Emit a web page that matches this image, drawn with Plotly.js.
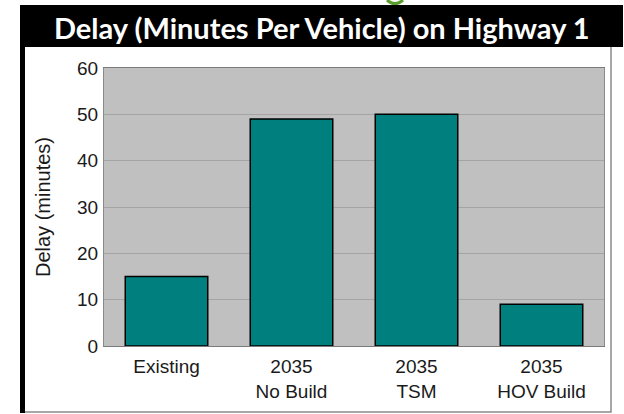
<!DOCTYPE html>
<html>
<head>
<meta charset="utf-8">
<script src="https://cdn.plot.ly/plotly-3.0.1.min.js"></script>
<style>html,body{margin:0;padding:0;background:#fff;}#chart{width:624px;height:414px;}</style>
</head>
<body>
<div id="chart"></div>
<script>
const categories = ["Existing", "2035 No Build", "2035 TSM", "2035 HOV Build"];
const tickLabels = ["Existing", "2035<br>No Build", "2035<br>TSM", "2035<br>HOV Build"];
const delayMinutes = [15, 49, 50, 9];
const yTicks = [0, 10, 20, 30, 40, 50, 60];

const L = 104, R = 20, T = 68, B = 68, W = 624, H = 414;
const pw = W - L - R, ph = H - T - B;
const px = x => (x - L) / pw;
const py = y => (H - B - y) / ph;

const trace = {
  type: "bar",
  x: categories,
  y: delayMinutes,
  marker: { color: "#007f7f", line: { color: "#000", width: 1.5 } },
  hoverinfo: "skip"
};

const layout = {
  width: W, height: H,
  margin: { l: L, r: R, t: T, b: B, pad: 0 },
  paper_bgcolor: "#ffffff",
  plot_bgcolor: "#c0c0c0",
  bargap: 0.34,
  showlegend: false,
  font: { family: "Liberation Sans, Arial, sans-serif", color: "#1a1a1a", size: 19 },
  xaxis: {
    tickmode: "array", tickvals: categories, ticktext: tickLabels,
    showgrid: false, showline: true, linecolor: "#7a7a7a", linewidth: 1,
    mirror: true, ticks: "outside", ticklen: 3, tickcolor: "rgba(0,0,0,0)",
    tickfont: { family: "Liberation Sans, Arial, sans-serif", size: 19, color: "#1a1a1a" },
    fixedrange: true
  },
  yaxis: {
    range: [0, 60], tickmode: "array", tickvals: yTicks,
    showgrid: true, gridcolor: "#a4a4a4", gridwidth: 1,
    showline: true, linecolor: "#8a8a8a", linewidth: 1, mirror: true,
    zeroline: false, ticks: "outside", ticklen: 1, tickcolor: "rgba(0,0,0,0)",
    tickfont: { family: "Liberation Sans, Arial, sans-serif", size: 19, color: "#1a1a1a" },
    title: { text: "Delay (minutes)", font: { family: "Liberation Sans, Arial, sans-serif", size: 20, color: "#1a1a1a" }, standoff: 21 },
    fixedrange: true
  },
  shapes: [
    { type: "rect", xref: "paper", yref: "paper", x0: px(23), x1: px(611), y0: py(412), y1: py(46),
      line: { color: "#8a8a8a", width: 1.5 }, fillcolor: "rgba(0,0,0,0)", layer: "below" },
    { type: "rect", xref: "paper", yref: "paper", x0: px(20), x1: px(25), y0: py(413), y1: py(46),
      line: { width: 0 }, fillcolor: "#000" },
    { type: "rect", xref: "paper", yref: "paper", x0: px(20), x1: px(623), y0: py(47), y1: py(5),
      line: { width: 0 }, fillcolor: "#000" },
    { type: "path", xref: "paper", yref: "paper",
      path: "M " + px(387) + " " + py(0) + " Q " + px(395) + " " + py(7) + " " + px(403) + " " + py(0),
      line: { color: "#5c9c2c", width: 3 }, fillcolor: "rgba(0,0,0,0)" }
  ],
  annotations: [
    { xref: "paper", yref: "paper", x: px(322), y: py(27), xanchor: "center", yanchor: "middle",
      text: "<b>Delay (Minutes Per Vehicle) on Highway 1</b>", showarrow: false,
      font: { family: "Lato, sans-serif", size: 29, color: "#ffffff" } }
  ]
};

Plotly.newPlot("chart", [trace], layout, { displayModeBar: false, staticPlot: true });
</script>
</body>
</html>
